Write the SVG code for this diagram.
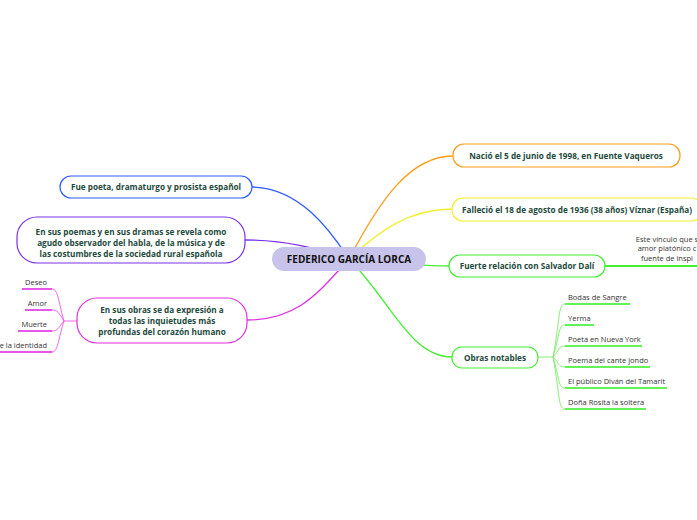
<svg xmlns="http://www.w3.org/2000/svg" width="697" height="520" viewBox="0 0 697 520">
<style>
text{font-family:"Open Sans","Noto Sans","Liberation Sans",sans-serif;}
.n{font-size:8.2px;font-weight:bold;fill:#1d4a3c;text-anchor:middle;}
.l{font-size:7.5px;fill:#333;}
.c{fill:none;stroke-width:1.3;}
</style>
<rect width="697" height="520" fill="#fff"/>
<g id="connectors" fill="none">
<path d="M349,259 C330,230 300,188 252,187" stroke="#2f5bff" class="c"/>
<path d="M349,259 C320,250 290,240 245,240" stroke="#7a30e8" class="c"/>
<path d="M349,259 C320,290 300,320 247,320" stroke="#e030e0" class="c"/>
<path d="M349,259 C380,200 410,156 453,156" stroke="#ff9c1a" class="c"/>
<path d="M349,259 C380,230 410,209 452,209" stroke="#f0f030" class="c"/>
<path d="M349,259 C380,262 410,266 449,266" stroke="#44ee33" class="c"/>
<path d="M349,259 C390,300 410,357 452,357" stroke="#44ee33" class="c"/>
<path d="M605,266 L697,266" stroke="#44ee33" stroke-width="2"/>
<g stroke="#ee66ee" stroke-width="1">
<path d="M77,321 L64,321"/>
<path d="M64,321 C58,300 58,289 52,289"/>
<path d="M64,321 C58,312 58,310 52,310"/>
<path d="M64,321 C58,328 58,331 52,331"/>
<path d="M64,321 C58,340 58,352 52,352"/>
</g>
<g stroke="#e020e0" stroke-width="1.3">
<path d="M22,289H52M25,310H52M18,331H52M0,352H52"/>
</g>
<g stroke="#88ee77" stroke-width="1">
<path d="M538,357 L553,357"/>
<path d="M553,357 C560,320 558,304 565,304"/>
<path d="M553,357 C560,335 558,325 565,325"/>
<path d="M553,357 C560,350 558,346 565,346"/>
<path d="M553,357 C560,364 558,367 565,367"/>
<path d="M553,357 C560,380 558,388 565,388"/>
<path d="M553,357 C560,395 558,409 565,409"/>
</g>
<g stroke="#33ee22" stroke-width="1.3">
<path d="M565,304H630M565,325H594M565,346H642M565,367H650M565,388H667M565,409H646"/>
</g>
</g>
<g id="center"><rect x="272" y="247" width="154" height="24" rx="12" fill="#c8c3ea"/><text x="349" y="263" class="n" style="font-size:10px;fill:#111">FEDERICO GARCÍA LORCA</text></g>
<g id="n1"><rect x="60" y="176" width="192" height="22" rx="11" fill="#fff" stroke="#2f5bff" stroke-width="1.2"/><text x="156" y="190" class="n">Fue poeta, dramaturgo y prosista español</text></g>
<g id="n2"><rect x="17" y="217" width="228" height="46" rx="20" fill="#fff" stroke="#7a30e8" stroke-width="1.2"/><text class="n"><tspan x="131" y="235">En sus poemas y en sus dramas se revela como</tspan><tspan x="131" y="246">agudo observador del habla, de la música y de</tspan><tspan x="131" y="257">las costumbres de la sociedad rural española</tspan></text></g>
<g id="n3"><rect x="77" y="298" width="170" height="45" rx="20" fill="#fff" stroke="#e030e0" stroke-width="1.2"/><text class="n"><tspan x="162" y="313">En sus obras se da expresión a</tspan><tspan x="162" y="324">todas las inquietudes más</tspan><tspan x="162" y="335">profundas del corazón humano</tspan></text></g>
<g id="leaves-left"><text x="47" y="285" class="l" text-anchor="end">Deseo</text><text x="47" y="306" class="l" text-anchor="end">Amor</text><text x="47" y="327" class="l" text-anchor="end">Muerte</text><text x="47" y="348" class="l" text-anchor="end">e la identidad</text></g>
<g id="n4"><rect x="453" y="144" width="227" height="23" rx="11" fill="#fff" stroke="#ff9c1a" stroke-width="1.2"/><text x="566" y="159" class="n">Nació el 5 de junio de 1998, en Fuente Vaqueros</text></g>
<g id="n5"><rect x="452" y="198" width="250" height="23" rx="11" fill="#fff" stroke="#f0f030" stroke-width="1.2"/><text x="577" y="213" class="n">Falleció el 18 de agosto de 1936 (38 años) Víznar (España)</text></g>
<g id="n6"><rect x="449" y="255" width="156" height="22" rx="11" fill="#fff" stroke="#44ee33" stroke-width="1.2"/><text x="527" y="269" class="n">Fuerte relación con Salvador Dalí</text></g>
<g id="n6a"><text class="l" text-anchor="middle"><tspan x="667" y="242">Este vínculo que s</tspan><tspan x="667" y="251">amor platónico c</tspan><tspan x="667" y="261">fuente de inspi</tspan></text></g>
<g id="n7"><rect x="452" y="347" width="86" height="21" rx="10" fill="#fff" stroke="#44ee33" stroke-width="1.2"/><text x="495" y="361" class="n">Obras notables</text></g>
<g id="leaves-right"><text x="568" y="300" class="l">Bodas de Sangre</text><text x="568" y="321" class="l">Yerma</text><text x="568" y="342" class="l">Poeta en Nueva York</text><text x="568" y="363" class="l">Poema del cante jondo</text><text x="568" y="384" class="l">El público Diván del Tamarit</text><text x="568" y="405" class="l">Doña Rosita la soltera</text></g>
</svg>
